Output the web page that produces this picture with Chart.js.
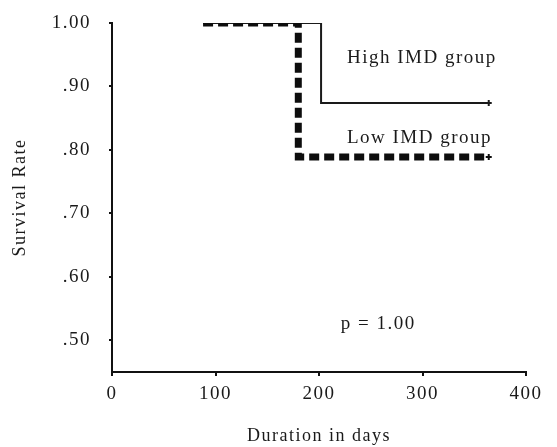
<!DOCTYPE html>
<html>
<head>
<meta charset="utf-8">
<script src="https://cdn.jsdelivr.net/npm/chart.js@4"></script>
<style>
  html, body { margin: 0; padding: 0; background: #fff; }
  #wrap { width: 557px; height: 447px; }
</style>
</head>
<body>
<div id="wrap"><canvas id="km"></canvas></div>
<script>
// Kaplan-Meier steps (days, survival)
var lowDays = [88, 180, 364];
var lowSurv = [1.00, 0.789, 0.789];
var highDays = [88, 202, 364];
var highSurv = [1.00, 0.874, 0.874];

var xTicks = [0, 100, 200, 300, 400];
var yTicks = [0.5, 0.6, 0.7, 0.8, 0.9, 1.0];
var yTickLabels = ['.50', '.60', '.70', '.80', '.90', '1.00'];

// text notes placed in data units
var notes = [
    { text: 'High IMD group', x: 227, y: 0.945 },
    { text: 'Low IMD group', x: 227, y: 0.819 },
    { text: 'p = 1.00', x: 221, y: 0.526 }
];

var FONT = '"Liberation Serif", "Times New Roman", serif';

function toPoints(xs, ys) {
    return xs.map(function (x, i) { return { x: x, y: ys[i] }; });
}

var spacingPlugin = {
    id: 'spacing',
    beforeUpdate: function (chart) { chart.ctx.letterSpacing = '1.5px'; },
    beforeDraw: function (chart) { chart.ctx.letterSpacing = '1.5px'; }
};

var notesPlugin = {
    id: 'notes',
    afterDatasetsDraw: function (chart) {
        var ctx = chart.ctx;
        var xs = chart.scales.x, ys = chart.scales.y;
        ctx.save();
        ctx.letterSpacing = '1.5px';
        ctx.font = '19px ' + FONT;
        ctx.fillStyle = '#1a1a1a';
        ctx.textAlign = 'left';
        ctx.textBaseline = 'middle';
        notes.forEach(function (n) {
            ctx.fillText(n.text, xs.getPixelForValue(n.x), ys.getPixelForValue(n.y));
        });
        ctx.restore();
    }
};

new Chart(document.getElementById('km'), {
    type: 'line',
    data: {
        datasets: [{
            label: 'Low IMD group',
            data: toPoints(lowDays, lowSurv),
            stepped: true,
            borderColor: '#0d0d0d',
            borderWidth: 7,
            borderDash: [10, 5],
            borderCapStyle: 'butt',
            pointRadius: [0, 0, 3],
            pointStyle: 'cross',
            pointBorderColor: '#0d0d0d',
            pointBorderWidth: 2
        }, {
            label: 'High IMD group',
            data: toPoints(highDays, highSurv),
            stepped: true,
            borderColor: '#1a1a1a',
            borderWidth: 2,
            pointRadius: [0, 0, 3],
            pointStyle: 'cross',
            pointBorderColor: '#1a1a1a',
            pointBorderWidth: 2
        }]
    },
    options: {
        responsive: true,
        maintainAspectRatio: false,
        animation: false,
        layout: { padding: { top: 23, right: 31, left: 0, bottom: 0 } },
        plugins: {
            legend: { display: false },
            tooltip: { enabled: false }
        },
        scales: {
            x: {
                type: 'linear',
                min: 0,
                max: 400,
                afterFit: function (s) { s.height = 75; s.paddingLeft = 0; s.paddingRight = 0; },
                afterBuildTicks: function (s) { s.ticks = xTicks.map(function (v) { return { value: v }; }); },
                border: { display: true, color: '#111', width: 2 },
                grid: { drawOnChartArea: false, drawTicks: true, tickLength: 4, color: '#111', lineWidth: 2 },
                ticks: { color: '#1a1a1a', font: { family: FONT, size: 19 }, padding: 7, maxRotation: 0 },
                title: {
                    display: true,
                    text: 'Duration in days',
                    color: '#1a1a1a',
                    font: { family: FONT, size: 18 },
                    padding: { top: 14, bottom: 0 }
                }
            },
            y: {
                min: 0.45,
                max: 1.0,
                afterFit: function (s) { s.width = 112; s.paddingTop = 0; s.paddingBottom = 0; },
                afterBuildTicks: function (s) { s.ticks = yTicks.map(function (v) { return { value: v }; }); },
                border: { display: true, color: '#111', width: 2 },
                grid: { drawOnChartArea: false, drawTicks: true, tickLength: 3, color: '#111', lineWidth: 2 },
                ticks: {
                    color: '#1a1a1a',
                    font: { family: FONT, size: 19 },
                    padding: 18,
                    callback: function (v) {
                        var i = yTicks.indexOf(v);
                        return i >= 0 ? yTickLabels[i] : '';
                    }
                },
                title: {
                    display: true,
                    text: 'Survival Rate',
                    color: '#1a1a1a',
                    font: { family: FONT, size: 18 },
                    padding: { top: 9, bottom: 0 }
                }
            }
        }
    },
    plugins: [spacingPlugin, notesPlugin]
});
</script>
</body>
</html>
